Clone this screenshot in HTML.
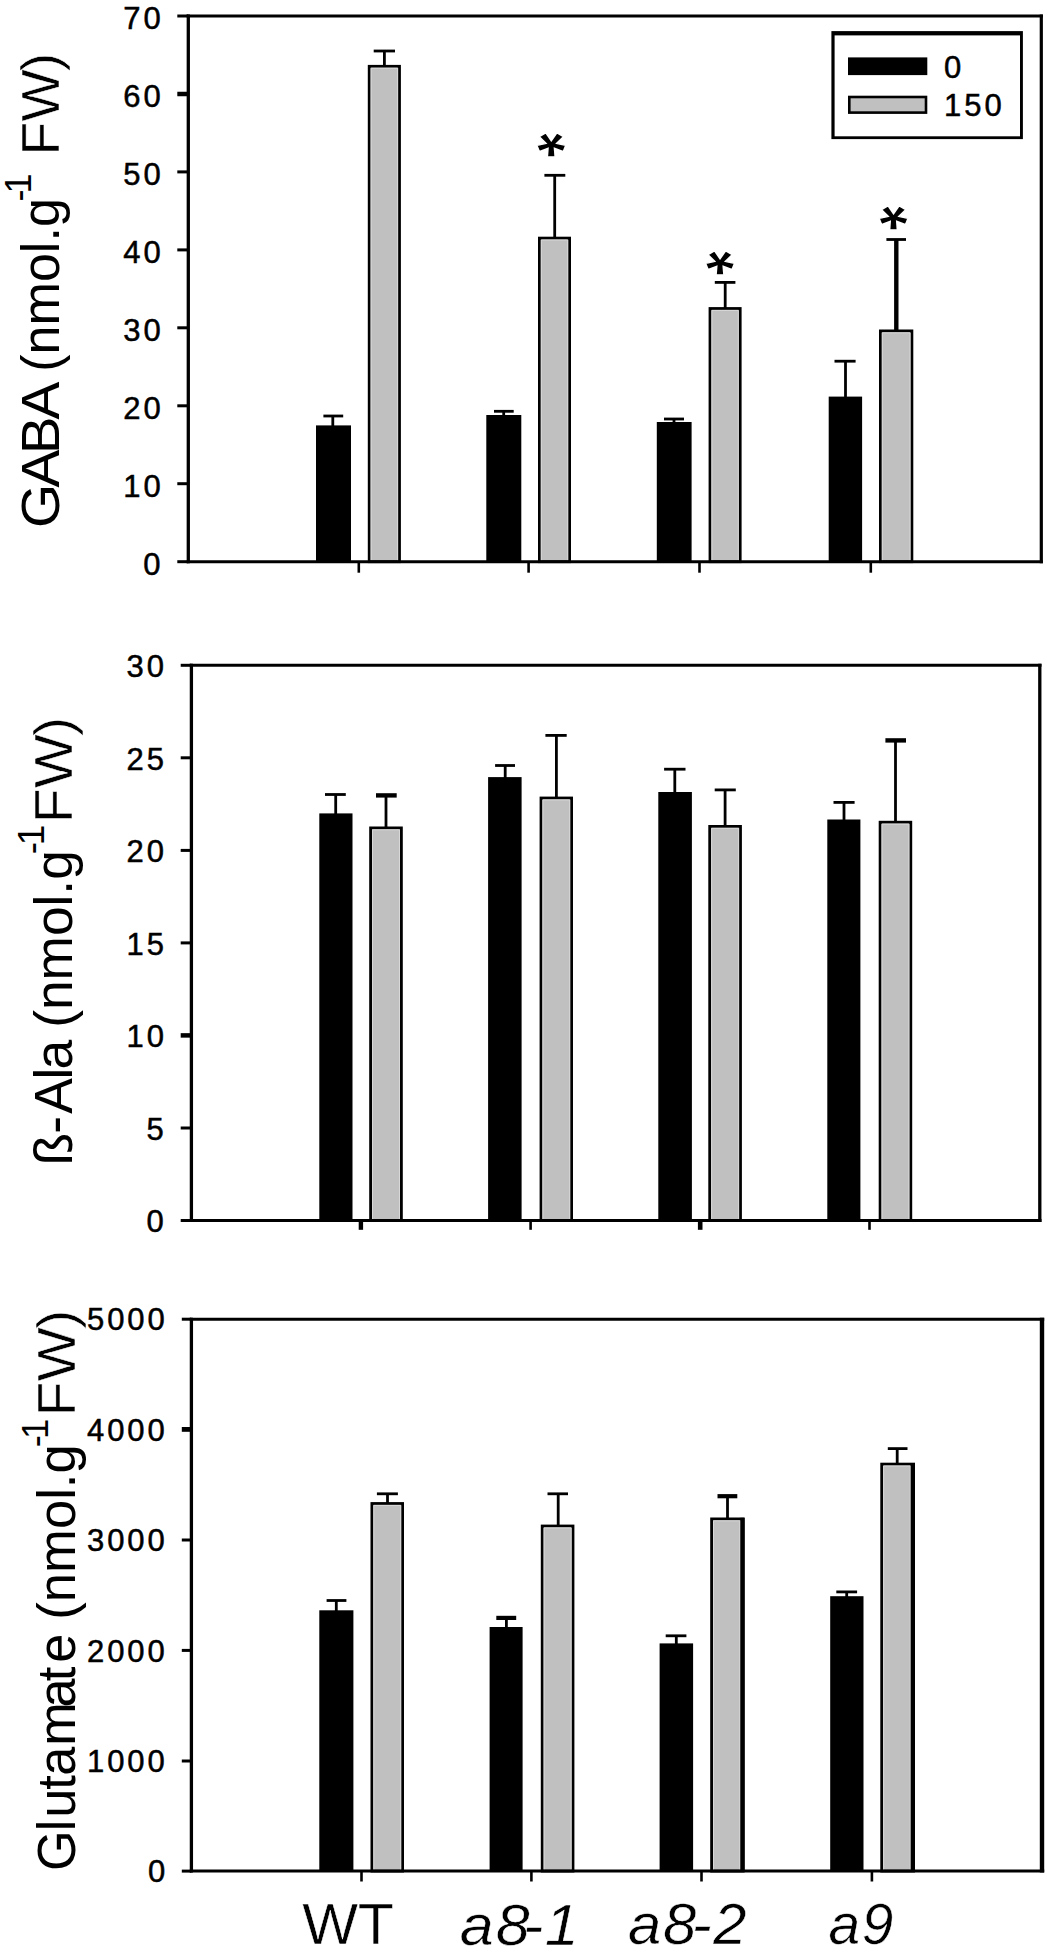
<!DOCTYPE html>
<html lang="en"><head><meta charset="utf-8"><title>Figure</title>
<style>html,body{margin:0;padding:0;background:#fff}svg{display:block}text{font-family:"Liberation Sans", Arial, Helvetica, sans-serif;fill:#000}.ax{stroke:#000;stroke-width:3;fill:none}.tk{stroke:#000;stroke-width:3;fill:none}.eb{stroke:#000;stroke-width:2.8;fill:none}.bk{fill:#000;stroke:none}.gy{fill:#c0c0c0;stroke:#000;stroke-width:2.8}.tl{font-size:31px;letter-spacing:3px;stroke:#000;stroke-width:.5px}.yl{font-size:52px}.yc{font-size:52px;stroke:#fff;stroke-width:.5px}.ys{font-size:36px}.xl{font-size:58px;stroke:#fff;stroke-width:.5px}.xi{font-size:58px;font-style:italic;stroke:#fff;stroke-width:.5px}.st{font-size:60px;font-weight:bold;stroke:#fff;stroke-width:1.2px}</style></head><body>
<svg width="1050" height="1952" viewBox="0 0 1050 1952">
<rect x="0" y="0" width="1050" height="1952" fill="#fff"/>
<rect class="bk" x="316.0" y="425.4" width="35.0" height="136.3"/>
<path class="eb" d="M332.8 426.4V416.0"/>
<path class="eb" style="stroke-width:2.8" d="M323.4 416.0H343.2"/>
<rect class="gy" x="369.2" y="66.3" width="30.3" height="495.4"/>
<path d="M371.1 560.2V68.2H397.6V560.2" fill="none" stroke="#d8d8d8" stroke-width="1"/>
<path class="eb" style="stroke-width:2.8" d="M384.4 65.9V51.0"/>
<path class="eb" style="stroke-width:2.8" d="M373.7 51.0H395.0"/>
<rect class="bk" x="486.3" y="415.0" width="35.0" height="146.7"/>
<path class="eb" d="M503.7 416.0V411.3"/>
<path class="eb" style="stroke-width:2.8" d="M494.0 411.3H513.7"/>
<rect class="gy" x="539.4" y="238.1" width="30.2" height="323.6"/>
<path d="M541.3 560.2V240.0H567.7V560.2" fill="none" stroke="#d8d8d8" stroke-width="1"/>
<path class="eb" style="stroke-width:2.8" d="M554.7 237.7V175.3"/>
<path class="eb" style="stroke-width:2.8" d="M544.4 175.3H565.3"/>
<rect class="bk" x="656.8" y="422.0" width="34.8" height="139.7"/>
<path class="eb" d="M674.0 423.0V419.0"/>
<path class="eb" style="stroke-width:2.8" d="M664.0 419.0H684.0"/>
<rect class="gy" x="710.0" y="308.5" width="30.2" height="253.2"/>
<path d="M711.9 560.2V310.4H738.3V560.2" fill="none" stroke="#d8d8d8" stroke-width="1"/>
<path class="eb" style="stroke-width:2.8" d="M725.2 308.1V282.4"/>
<path class="eb" style="stroke-width:2.8" d="M714.8 282.4H735.4"/>
<rect class="bk" x="828.7" y="396.6" width="33.4" height="165.1"/>
<path class="eb" d="M845.5 397.6V361.2"/>
<path class="eb" style="stroke-width:2.8" d="M834.5 361.2H855.6"/>
<rect class="gy" x="880.4" y="330.9" width="31.5" height="230.8"/>
<path d="M882.3 560.2V332.8H910.0V560.2" fill="none" stroke="#d8d8d8" stroke-width="1"/>
<path class="eb" style="stroke-width:4.4" d="M896.3 330.5V239.5"/>
<path class="eb" style="stroke-width:2.8" d="M886.4 239.5H906.0"/>
<path class="ax" style="stroke-width:3.3" d="M188.3 14.5V563.2"/>
<path class="ax" style="stroke-width:3.2" d="M1041.3 14.5V563.2"/>
<path class="ax" style="stroke-width:3.0" d="M186.7 16.0H1042.9"/>
<path class="ax" style="stroke-width:3.0" d="M186.7 561.7H1042.9"/>
<path class="tk" style="stroke-width:2.6" d="M358.8 561.7V572.7"/>
<path class="tk" style="stroke-width:2.6" d="M528.6 561.7V572.7"/>
<path class="tk" style="stroke-width:2.6" d="M699.5 561.7V572.7"/>
<path class="tk" style="stroke-width:2.6" d="M870.8 561.7V572.7"/>
<path class="tk" style="stroke-width:3.0" d="M177.3 561.7H188.3"/>
<text class="tl" x="143.30" y="574.50">0</text>
<path class="tk" style="stroke-width:3.0" d="M177.3 483.7H188.3"/>
<text class="tl" x="123.30" y="496.54">10</text>
<path class="tk" style="stroke-width:3.0" d="M177.3 405.8H188.3"/>
<text class="tl" x="123.30" y="418.59">20</text>
<path class="tk" style="stroke-width:3.0" d="M177.3 327.8H188.3"/>
<text class="tl" x="123.30" y="340.63">30</text>
<path class="tk" style="stroke-width:3.0" d="M177.3 249.9H188.3"/>
<text class="tl" x="123.30" y="262.67">40</text>
<path class="tk" style="stroke-width:3.0" d="M177.3 171.9H188.3"/>
<text class="tl" x="123.30" y="184.71">50</text>
<path class="tk" style="stroke-width:4.5" d="M177.3 94.0H188.3"/>
<text class="tl" x="123.30" y="106.76">60</text>
<path class="tk" style="stroke-width:3.0" d="M177.3 16.0H188.3"/>
<text class="tl" x="123.30" y="28.80">70</text>
<rect x="831.4" y="31.1" width="191.5" height="108" fill="#000"/>
<rect x="834.6" y="35.4" width="185.4" height="100.9" fill="#fff"/>
<rect x="848" y="57.4" width="79.3" height="17.7" fill="#000"/>
<rect x="849.3" y="97" width="76.7" height="15.6" fill="#c0c0c0" stroke="#000" stroke-width="2.6"/>
<text class="tl" x="944" y="77.5">0</text>
<text class="tl" x="944" y="116">150</text>
<text class="st" transform="translate(551.5 144.5) scale(1.252 1.091) rotate(180)" x="-11.50" y="30.00">*</text>
<text class="st" transform="translate(720.4 263.2) scale(1.252 1.091) rotate(180)" x="-11.50" y="30.00">*</text>
<text class="st" transform="translate(893.9 217.5) scale(1.252 1.091) rotate(180)" x="-11.50" y="30.00">*</text>
<g transform="translate(58.60 0) rotate(-90) scale(1 1.045)">
<text class="yl" transform="scale(1.0908 1)" x="-484.08 -446.83 -416.34 -384.58" y="0.00">GABA</text>
<text class="yl" transform="scale(1.0018 1)" x="-371.14" y="0.00">(nmol.g<tspan class="ys" x="-201.10 -193.17" dy="-26.51">-1</tspan></text>
<text class="yc" transform="scale(1.0614 1)" x="-146.55 -114.53 -67.09" y="0.00">FW)</text>
</g>
<rect class="bk" x="319.3" y="813.4" width="33.2" height="407.1"/>
<path class="eb" d="M335.7 814.4V794.5"/>
<path class="eb" style="stroke-width:2.8" d="M325.0 794.5H345.8"/>
<rect class="gy" x="370.6" y="827.9" width="30.8" height="392.6"/>
<path d="M372.5 1219.0V829.8H399.5V1219.0" fill="none" stroke="#d8d8d8" stroke-width="1"/>
<path class="eb" style="stroke-width:2.8" d="M386.0 827.5V795.4"/>
<path class="eb" style="stroke-width:4.4" d="M376.0 795.4H396.7"/>
<rect class="bk" x="488.1" y="777.1" width="33.5" height="443.4"/>
<path class="eb" d="M505.2 778.1V765.5"/>
<path class="eb" style="stroke-width:2.8" d="M495.1 765.5H515.0"/>
<rect class="gy" x="541.0" y="798.0" width="30.6" height="422.5"/>
<path d="M542.9 1219.0V799.9H569.7V1219.0" fill="none" stroke="#d8d8d8" stroke-width="1"/>
<path class="eb" style="stroke-width:2.8" d="M556.4 797.6V735.4"/>
<path class="eb" style="stroke-width:2.8" d="M545.4 735.4H566.7"/>
<rect class="bk" x="658.3" y="792.0" width="33.6" height="428.5"/>
<path class="eb" d="M674.8 793.0V769.2"/>
<path class="eb" style="stroke-width:2.8" d="M664.1 769.2H685.5"/>
<rect class="gy" x="709.7" y="826.4" width="30.8" height="394.1"/>
<path d="M711.6 1219.0V828.3H738.6V1219.0" fill="none" stroke="#d8d8d8" stroke-width="1"/>
<path class="eb" style="stroke-width:2.8" d="M725.1 826.0V789.9"/>
<path class="eb" style="stroke-width:2.8" d="M714.7 789.9H735.8"/>
<rect class="bk" x="827.3" y="819.5" width="33.1" height="401.0"/>
<path class="eb" d="M844.0 820.5V802.4"/>
<path class="eb" style="stroke-width:2.8" d="M833.5 802.4H854.6"/>
<rect class="gy" x="880.1" y="822.2" width="30.7" height="398.3"/>
<path d="M882.0 1219.0V824.1H908.9V1219.0" fill="none" stroke="#d8d8d8" stroke-width="1"/>
<path class="eb" style="stroke-width:2.8" d="M895.5 821.8V740.4"/>
<path class="eb" style="stroke-width:4.4" d="M885.4 740.4H906.0"/>
<path class="ax" style="stroke-width:3.3" d="M191.4 663.8V1222.0"/>
<path class="ax" style="stroke-width:3.3" d="M1039.8 663.8V1222.0"/>
<path class="ax" style="stroke-width:3.0" d="M189.8 665.3H1041.5"/>
<path class="ax" style="stroke-width:3.0" d="M189.8 1220.5H1041.5"/>
<path class="tk" style="stroke-width:4.4" d="M360.9 1220.5V1229.8"/>
<path class="tk" style="stroke-width:2.6" d="M530.6 1220.5V1229.8"/>
<path class="tk" style="stroke-width:4.6" d="M700.2 1220.5V1229.8"/>
<path class="tk" style="stroke-width:2.6" d="M869.5 1220.5V1229.8"/>
<path class="tk" style="stroke-width:3.0" d="M180.7 1220.5H191.4"/>
<text class="tl" x="146.40" y="1232.30">0</text>
<path class="tk" style="stroke-width:3.0" d="M180.7 1128.0H191.4"/>
<text class="tl" x="146.40" y="1139.77">5</text>
<path class="tk" style="stroke-width:4.5" d="M180.7 1035.4H191.4"/>
<text class="tl" x="126.40" y="1047.23">10</text>
<path class="tk" style="stroke-width:3.0" d="M180.7 942.9H191.4"/>
<text class="tl" x="126.40" y="954.70">15</text>
<path class="tk" style="stroke-width:3.0" d="M180.7 850.4H191.4"/>
<text class="tl" x="126.40" y="862.17">20</text>
<path class="tk" style="stroke-width:3.0" d="M180.7 757.8H191.4"/>
<text class="tl" x="126.40" y="769.63">25</text>
<path class="tk" style="stroke-width:3.0" d="M180.7 665.3H191.4"/>
<text class="tl" x="126.40" y="677.10">30</text>
<g transform="translate(72.00 0) rotate(-90) scale(1 1.045)">
<text class="yl" transform="scale(1.0270 1)" x="-1134.77 -1103.92 -1084.53 -1051.18 -1041.45" y="0.00">ß-Ala</text>
<text class="yl" transform="scale(1.0246 1)" x="-1003.15" y="0.00">(nmol.g<tspan class="ys" x="-833.73 -824.95" dy="-26.51">-1</tspan></text>
<text class="yc" transform="scale(1.0943 1)" x="-752.30 -720.14 -672.53" y="0.00">FW)</text>
</g>
<rect class="bk" x="319.3" y="1610.3" width="34.1" height="260.8"/>
<path class="eb" d="M336.3 1611.3V1600.5"/>
<path class="eb" style="stroke-width:2.8" d="M326.6 1600.5H346.4"/>
<rect class="gy" x="371.9" y="1503.5" width="30.7" height="367.6"/>
<path d="M373.8 1869.6V1505.4H400.7V1869.6" fill="none" stroke="#d8d8d8" stroke-width="1"/>
<path class="eb" style="stroke-width:2.8" d="M387.5 1503.1V1493.8"/>
<path class="eb" style="stroke-width:2.8" d="M376.9 1493.8H397.9"/>
<rect class="bk" x="489.6" y="1627.0" width="33.0" height="244.1"/>
<path class="eb" d="M506.4 1628.0V1617.9"/>
<path class="eb" style="stroke-width:4.2" d="M496.3 1617.9H516.2"/>
<rect class="gy" x="542.2" y="1526.0" width="30.8" height="345.1"/>
<path d="M544.1 1869.6V1527.9H571.1V1869.6" fill="none" stroke="#d8d8d8" stroke-width="1"/>
<path class="eb" style="stroke-width:2.8" d="M558.2 1525.6V1493.8"/>
<path class="eb" style="stroke-width:2.8" d="M547.5 1493.8H568.0"/>
<rect class="bk" x="659.6" y="1643.4" width="33.5" height="227.7"/>
<path class="eb" d="M676.3 1644.4V1635.8"/>
<path class="eb" style="stroke-width:2.8" d="M665.7 1635.8H686.4"/>
<rect class="gy" x="711.6" y="1518.9" width="31.6" height="352.2"/>
<path d="M713.5 1869.6V1520.8H739.8V1869.6" fill="none" stroke="#d8d8d8" stroke-width="1"/>
<rect class="bk" x="740.3" y="1517.8" width="4.3" height="353.3"/>
<path class="eb" style="stroke-width:2.8" d="M727.5 1518.5V1496.2"/>
<path class="eb" style="stroke-width:4.2" d="M717.5 1496.2H737.3"/>
<rect class="bk" x="830.2" y="1596.2" width="33.3" height="274.9"/>
<path class="eb" d="M846.7 1597.2V1591.9"/>
<path class="eb" style="stroke-width:2.8" d="M836.3 1591.9H857.1"/>
<rect class="gy" x="881.7" y="1464.1" width="31.9" height="407.0"/>
<path d="M883.6 1869.6V1466.0H910.2V1869.6" fill="none" stroke="#d8d8d8" stroke-width="1"/>
<rect class="bk" x="910.7" y="1463.0" width="4.3" height="408.1"/>
<path class="eb" style="stroke-width:2.8" d="M897.2 1463.7V1448.6"/>
<path class="eb" style="stroke-width:2.8" d="M887.8 1448.6H907.5"/>
<path class="ax" style="stroke-width:3.3" d="M191.4 1317.7V1872.6"/>
<path class="ax" style="stroke-width:4.4" d="M1042.0 1317.7V1872.6"/>
<path class="ax" style="stroke-width:3.1" d="M189.8 1319.2H1044.2"/>
<path class="ax" style="stroke-width:3.0" d="M189.8 1871.1H1044.2"/>
<path class="tk" style="stroke-width:2.6" d="M361.5 1871.1V1881.5"/>
<path class="tk" style="stroke-width:2.6" d="M531.4 1871.1V1881.5"/>
<path class="tk" style="stroke-width:2.6" d="M701.5 1871.1V1881.5"/>
<path class="tk" style="stroke-width:2.6" d="M871.9 1871.1V1881.5"/>
<path class="tk" style="stroke-width:3.0" d="M181.8 1871.1H191.4"/>
<text class="tl" x="147.90" y="1882.30">0</text>
<path class="tk" style="stroke-width:3.0" d="M181.8 1761.0H191.4"/>
<text class="tl" x="86.90" y="1772.20">1000</text>
<path class="tk" style="stroke-width:3.0" d="M181.8 1650.4H191.4"/>
<text class="tl" x="86.90" y="1661.60">2000</text>
<path class="tk" style="stroke-width:3.0" d="M181.8 1540.0H191.4"/>
<text class="tl" x="86.90" y="1551.20">3000</text>
<path class="tk" style="stroke-width:4.8" d="M181.8 1429.4H191.4"/>
<text class="tl" x="86.90" y="1440.60">4000</text>
<path class="tk" style="stroke-width:3.0" d="M181.8 1319.2H191.4"/>
<text class="tl" x="86.90" y="1330.40">5000</text>
<g transform="translate(75.30 0) rotate(-90) scale(1 1.045)">
<text class="yl" transform="scale(1.0056 1)" x="-1860.62 -1820.97 -1807.73 -1779.90 -1765.78 -1736.12 -1698.05 -1671.85 -1653.59" y="0.00">Glutamate</text>
<text class="yl" transform="scale(1.0114 1)" x="-1601.41" y="0.00">(nmol.g<tspan class="ys" x="-1430.99 -1422.73" dy="-26.51">-1</tspan></text>
<text class="yc" transform="scale(1.0989 1)" x="-1289.09 -1256.96 -1209.20" y="0.00">FW)</text>
</g>
<text class="xl" transform="scale(1.0207 1)" x="296.07 350.54" y="1944.50">WT</text>
<text class="xi" transform="scale(1.0505 1)" x="437.62 472.00 497.83 518.58" y="1944.50">a8-1</text>
<text class="xi" transform="scale(1.0295 1)" x="610.03 644.13 672.00 692.93" y="1944.50">a8-2</text>
<text class="xi" transform="scale(0.9793 1)" x="846.02 880.05" y="1944.50">a9</text>
</svg></body></html>
